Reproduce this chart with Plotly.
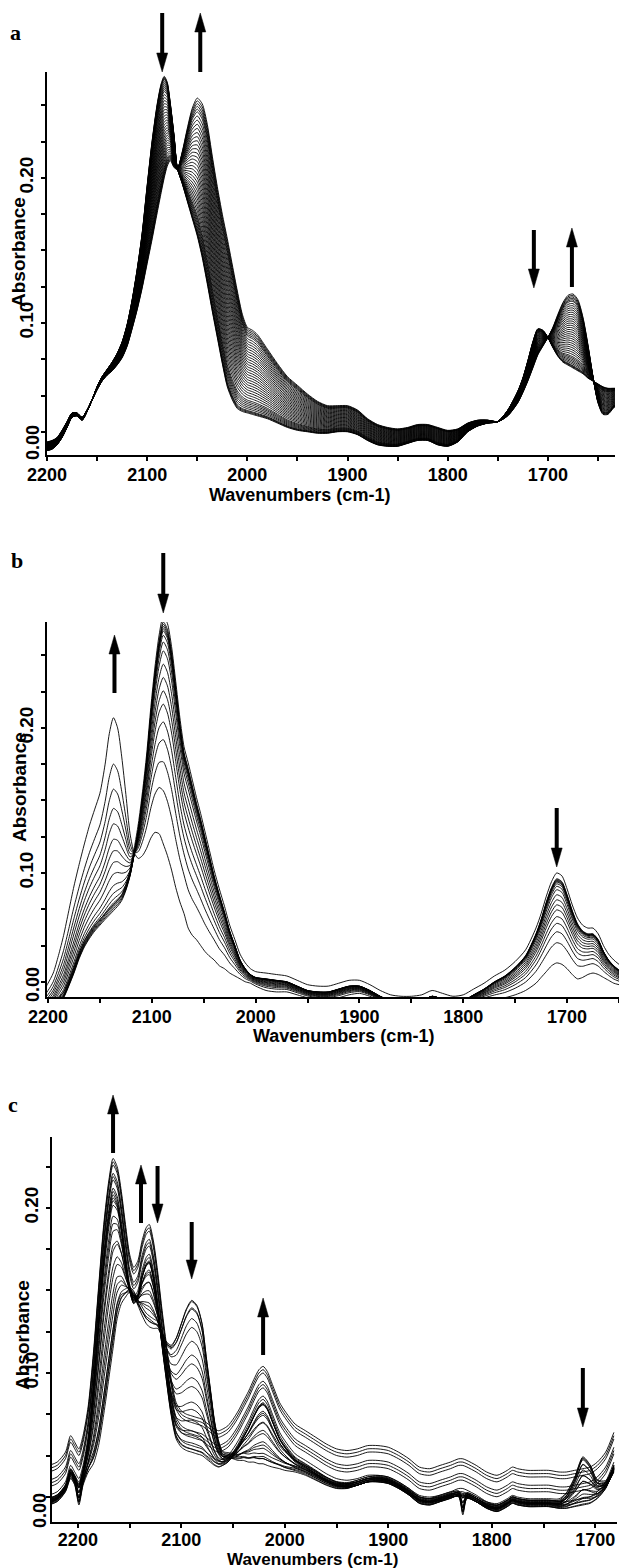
import plotly.graph_objects as go

W, H = 619, 1568

# ---------------- Panel a data ----------------
WN_A = [2200, 2195, 2190, 2185, 2180, 2175, 2170, 2165, 2160, 2155, 2150, 2145, 2140, 2135, 2130, 2125, 2120,
        2115, 2110, 2105, 2100, 2095, 2090, 2086, 2083, 2080, 2077, 2073, 2070, 2065, 2060, 2055, 2050, 2045,
        2040, 2035, 2030, 2025, 2020, 2015, 2010, 2005, 2000, 1995, 1990, 1980, 1970, 1960, 1950, 1940, 1930,
        1920, 1910, 1900, 1890, 1880, 1870, 1860, 1850, 1840, 1830, 1820, 1810, 1800, 1790, 1780, 1770, 1760,
        1750, 1740, 1730, 1725, 1720, 1715, 1710, 1705, 1700, 1695, 1690, 1685, 1680, 1675, 1670, 1665, 1660,
        1655, 1650, 1645, 1640, 1635, 1632]
START_A = [0.012, 0.013, 0.016, 0.021, 0.028, 0.035, 0.036, 0.033, 0.039, 0.047, 0.056, 0.063, 0.068, 0.073,
           0.079, 0.087, 0.099, 0.116, 0.137, 0.162, 0.195, 0.226, 0.251, 0.265, 0.270, 0.266, 0.252, 0.228,
           0.207, 0.196, 0.184, 0.172, 0.160, 0.145, 0.127, 0.108, 0.090, 0.072, 0.056, 0.047, 0.041, 0.039,
           0.038, 0.037, 0.036, 0.034, 0.031, 0.028, 0.026, 0.025, 0.024, 0.024, 0.025, 0.025, 0.023, 0.019,
           0.016, 0.015, 0.015, 0.017, 0.019, 0.019, 0.016, 0.015, 0.018, 0.025, 0.029, 0.031, 0.032, 0.040,
           0.053, 0.062, 0.074, 0.087, 0.096, 0.095, 0.090, 0.083, 0.077, 0.073, 0.071, 0.069, 0.067, 0.065,
           0.062, 0.060, 0.058, 0.056, 0.055, 0.055, 0.055]
END_A = [0.018, 0.019, 0.021, 0.026, 0.032, 0.038, 0.038, 0.035, 0.040, 0.047, 0.054, 0.060, 0.064, 0.067,
         0.071, 0.076, 0.084, 0.096, 0.109, 0.124, 0.141, 0.158, 0.176, 0.190, 0.200, 0.208, 0.212, 0.207,
         0.206, 0.218, 0.234, 0.248, 0.255, 0.251, 0.237, 0.215, 0.194, 0.175, 0.158, 0.140, 0.122, 0.106,
         0.097, 0.095, 0.092, 0.082, 0.072, 0.063, 0.057, 0.051, 0.046, 0.043, 0.043, 0.043, 0.040, 0.034,
         0.030, 0.028, 0.027, 0.028, 0.030, 0.030, 0.028, 0.026, 0.027, 0.031, 0.033, 0.033, 0.032, 0.036,
         0.045, 0.052, 0.060, 0.069, 0.078, 0.084, 0.090, 0.097, 0.106, 0.114, 0.119, 0.120, 0.116, 0.104,
         0.085, 0.063, 0.045, 0.037, 0.037, 0.041, 0.043]
FRAC_A = [0.0, 0.01, 0.02, 0.03, 0.05, 0.07, 0.09, 0.11, 0.13, 0.15, 0.18, 0.21, 0.24, 0.27, 0.30, 0.33, 0.36,
          0.39, 0.42, 0.45, 0.48, 0.51, 0.54, 0.57, 0.60, 0.63, 0.66, 0.69, 0.72, 0.75, 0.78, 0.81, 0.84, 0.87,
          0.90, 0.92, 0.94, 0.96, 0.98, 1.0]
OFF_A = [0.0] * len(FRAC_A)

# ---------------- Panel b data ----------------
WN_B = [2205, 2200, 2195, 2190, 2185, 2180, 2175, 2170, 2165, 2160, 2155, 2150, 2145, 2141, 2137, 2133, 2129,
        2125, 2121, 2117, 2113, 2109, 2105, 2101, 2097, 2093, 2089, 2085, 2081, 2077, 2073, 2069, 2065, 2061,
        2057, 2053, 2049, 2045, 2040, 2035, 2030, 2025, 2020, 2015, 2010, 2005, 2000, 1990, 1980, 1970, 1960,
        1950, 1940, 1930, 1920, 1910, 1900, 1890, 1880, 1870, 1860, 1850, 1840, 1830, 1820, 1810, 1800, 1790,
        1780, 1770, 1760, 1750, 1740, 1730, 1725, 1720, 1715, 1710, 1705, 1700, 1695, 1690, 1685, 1680, 1675,
        1670, 1665, 1660, 1655, 1650]
START_B = [0.001, 0.003, 0.006, 0.010, 0.014, 0.022, 0.031, 0.041, 0.049, 0.055, 0.060, 0.064, 0.068, 0.071,
           0.074, 0.077, 0.081, 0.088, 0.098, 0.113, 0.130, 0.152, 0.178, 0.210, 0.238, 0.260, 0.273, 0.268,
           0.252, 0.228, 0.203, 0.183, 0.172, 0.160, 0.148, 0.137, 0.125, 0.113, 0.098, 0.085, 0.073, 0.060,
           0.050, 0.040, 0.034, 0.030, 0.028, 0.027, 0.026, 0.025, 0.022, 0.019, 0.018, 0.018, 0.020, 0.022,
           0.022, 0.019, 0.015, 0.012, 0.011, 0.011, 0.012, 0.015, 0.013, 0.011, 0.012, 0.016, 0.020, 0.025,
           0.029, 0.035, 0.043, 0.058, 0.068, 0.080, 0.090, 0.096, 0.094, 0.085, 0.074, 0.065, 0.060, 0.058,
           0.058, 0.054, 0.046, 0.040, 0.036, 0.033]
END_B = [0.018, 0.024, 0.031, 0.043, 0.057, 0.074, 0.091, 0.106, 0.120, 0.133, 0.144, 0.155, 0.175, 0.196,
         0.207, 0.200, 0.180, 0.154, 0.127, 0.114, 0.110, 0.112, 0.117, 0.124, 0.128, 0.127, 0.120, 0.112,
         0.102, 0.090, 0.080, 0.072, 0.062, 0.057, 0.054, 0.050, 0.046, 0.043, 0.040, 0.036, 0.034, 0.031,
         0.029, 0.027, 0.025, 0.024, 0.022, 0.019, 0.018, 0.018, 0.016, 0.014, 0.013, 0.013, 0.014, 0.016,
         0.017, 0.015, 0.012, 0.010, 0.010, 0.011, 0.012, 0.014, 0.012, 0.010, 0.010, 0.011, 0.012, 0.013,
         0.014, 0.016, 0.019, 0.024, 0.028, 0.032, 0.036, 0.038, 0.037, 0.034, 0.030, 0.027, 0.028, 0.030,
         0.031, 0.030, 0.028, 0.026, 0.024, 0.023]
FRAC_B = [0.0, 0.0, 0.01, 0.02, 0.03, 0.04, 0.06, 0.09, 0.13, 0.19, 0.25, 0.31, 0.37, 0.45, 0.53, 0.63, 0.76, 1.0]
OFF_B = [0.0, 0.004] + [0.0] * (len(FRAC_B) - 2)

# ---------------- Panel c data ----------------
WN_C = [2228, 2220, 2212, 2207, 2203, 2199, 2195, 2190, 2185, 2180, 2175, 2170, 2166, 2162, 2158, 2154, 2150,
        2146, 2142, 2138, 2134, 2131, 2127, 2123, 2119, 2115, 2110, 2105, 2100, 2095, 2090, 2085, 2080, 2076,
        2072, 2068, 2064, 2060, 2055, 2050, 2045, 2040, 2035, 2030, 2025, 2021, 2017, 2012, 2005, 2000, 1990,
        1980, 1970, 1960, 1950, 1940, 1930, 1920, 1910, 1900, 1890, 1880, 1870, 1860, 1850, 1840, 1832, 1828,
        1824, 1815, 1805, 1795, 1785, 1780, 1775, 1765, 1755, 1745, 1735, 1728, 1720, 1712, 1705, 1698, 1690,
        1682]
START_C = [0.020, 0.022, 0.028, 0.036, 0.032, 0.020, 0.032, 0.040, 0.045, 0.056, 0.075, 0.097, 0.115, 0.133,
           0.142, 0.146, 0.149, 0.147, 0.141, 0.135, 0.130, 0.128, 0.127, 0.127, 0.123, 0.118, 0.116, 0.121,
           0.130, 0.139, 0.144, 0.141, 0.130, 0.110, 0.090, 0.070, 0.057, 0.050, 0.049, 0.048, 0.047, 0.047,
           0.046, 0.046, 0.045, 0.045, 0.044, 0.043, 0.042, 0.041, 0.040, 0.038, 0.035, 0.032, 0.030, 0.030,
           0.032, 0.034, 0.035, 0.034, 0.031, 0.027, 0.023, 0.022, 0.023, 0.025, 0.025, 0.014, 0.024, 0.022,
           0.019, 0.018, 0.021, 0.023, 0.022, 0.021, 0.021, 0.021, 0.021, 0.025, 0.035, 0.048, 0.043, 0.033,
           0.032, 0.040]
END_C = [0.022, 0.024, 0.030, 0.040, 0.036, 0.032, 0.040, 0.058, 0.090, 0.130, 0.168, 0.195, 0.208, 0.203,
         0.188, 0.168, 0.150, 0.142, 0.146, 0.158, 0.166, 0.168, 0.158, 0.140, 0.118, 0.098, 0.075, 0.060,
         0.055, 0.053, 0.052, 0.051, 0.050, 0.048, 0.046, 0.044, 0.043, 0.044, 0.046, 0.050, 0.055, 0.061,
         0.067, 0.074, 0.080, 0.082, 0.079, 0.071, 0.060, 0.055, 0.047, 0.043, 0.039, 0.035, 0.032, 0.031,
         0.032, 0.034, 0.034, 0.033, 0.030, 0.026, 0.021, 0.020, 0.022, 0.024, 0.026, 0.026, 0.025, 0.022,
         0.018, 0.016, 0.019, 0.021, 0.020, 0.019, 0.019, 0.019, 0.018, 0.018, 0.019, 0.020, 0.021, 0.024,
         0.030, 0.042]
FRAC_C = [0.0, 0.03, 0.06, 0.09, 0.12, 0.20, 0.28, 0.36, 0.44, 0.52, 0.60, 0.67, 0.74, 0.80, 0.86, 0.91, 0.95,
          0.98, 1.0, 1.0, 1.0, 1.0, 1.0, 1.0, 1.0, 1.0, 1.0]
OFF_C = [0.0, 0.002, 0.001, 0.003, 0.0, 0.002, 0.001, 0.0, 0.002, 0.001, 0.003, 0.0, 0.002, 0.001, 0.0,
         0.002, 0.001, 0.0, 0.0, 0.002, 0.004, 0.009, 0.011, 0.013, 0.018, 0.020, 0.022]

X_TICKS = [2200, 2150, 2100, 2050, 2000, 1950, 1900, 1850, 1800, 1750, 1700, 1650]
Y_TICKS = [0.025, 0.05, 0.075, 0.10, 0.125, 0.15, 0.175, 0.20, 0.225, 0.25]
Y_LABELS = {0.10: "0.10", 0.20: "0.20"}

# panel geometry (pixels) and axis ranges
PANELS = [
    dict(key="", x0=47, x1=615, y0=72, y1=455, xr=[2200, 1633], yr=[0.009, 0.273],
         wn=WN_A, s=START_A, e=END_A, f=FRAC_A, o=OFF_A, letter="a", letter_pos=(15, 32),
         abs_pos=(19, 252), wav_pos=(299, 495), wav_size=18, zero_pos=(33, 443), standoff=-2,
         arrows=[(2085, 13, 72, "down"), (2047, 13, 72, "up"), (1714, 230, 288, "down"), (1676, 228, 287, "up")]),
    dict(key="2", x0=47, x1=619, y0=622, y1=997, xr=[2201, 1650], yr=[0.0145, 0.273],
         wn=WN_B, s=START_B, e=END_B, f=FRAC_B, o=OFF_B, letter="b", letter_pos=(17, 560),
         abs_pos=(19, 787), wav_pos=(343, 1036), wav_size=18, zero_pos=(33, 985), standoff=-2,
         arrows=[(2136, 635, 693, "up"), (2089, 553, 613, "down"), (1710, 808, 867, "down")]),
    dict(key="3", x0=52, x1=617, y0=1137, y1=1522, xr=[2225, 1679], yr=[0.0097, 0.243],
         wn=WN_C, s=START_C, e=END_C, f=FRAC_C, o=OFF_C, letter="c", letter_pos=(13, 1104),
         abs_pos=(22, 1335), wav_pos=(312, 1559), wav_size=17, zero_pos=(40, 1511), standoff=-4,
         arrows=[(2166, 1095, 1153, "up"), (2139, 1165, 1223, "up"), (2123, 1166, 1223, "down"),
                 (2090, 1222, 1279, "down"), (2021, 1298, 1355, "up"), (1712, 1368, 1427, "down")]),
]

SANS = "Liberation Sans"
SERIF = "Liberation Serif"

fig = go.Figure()
layout = dict(width=W, height=H, margin=dict(l=0, r=0, t=0, b=0), paper_bgcolor="white",
              plot_bgcolor="white", showlegend=False)
annotations = []
shapes = []


def P(px, py):
    return px / W, 1 - py / H


for p in PANELS:
    k = p["key"]
    xname, yname = "x" + k, "y" + k
    for fr, off in zip(p["f"], p["o"]):
        yv = [(1 - fr) * a + fr * b + off for a, b in zip(p["s"], p["e"])]
        fig.add_trace(go.Scatter(x=p["wn"], y=yv, mode="lines", xaxis=xname, yaxis=yname,
                                 line=dict(color="black", width=0.9, shape="spline", smoothing=0.7),
                                 hoverinfo="skip", showlegend=False))
    xt = [t for t in X_TICKS if p["xr"][1] <= t <= p["xr"][0]]
    yt = [t for t in Y_TICKS if p["yr"][0] <= t <= p["yr"][1]]
    layout["xaxis" + k] = dict(
        domain=[p["x0"] / W, p["x1"] / W], range=p["xr"], anchor=yname, showgrid=False, zeroline=False,
        showline=True, linecolor="black", linewidth=2, ticks="outside", ticklen=4, tickwidth=1.5,
        tickcolor="black", tickvals=xt, ticktext=["<b>%d</b>" % t if t % 100 == 0 else "" for t in xt],
        tickfont=dict(family=SANS, size=18, color="black"), ticklabelstandoff=p["standoff"],
        automargin=False)
    layout["yaxis" + k] = dict(
        domain=[1 - p["y1"] / H, 1 - p["y0"] / H], range=p["yr"], anchor=xname, showgrid=False,
        zeroline=False, showline=True, linecolor="black", linewidth=2, ticks="outside", ticklen=4,
        tickwidth=1.5, tickcolor="black", tickvals=yt,
        ticktext=[("<b>%s</b>" % Y_LABELS[round(t, 3)]) if round(t, 3) in Y_LABELS else "" for t in yt],
        tickangle=-90, tickfont=dict(family=SANS, size=19, color="black"), automargin=False)

    lx, ly = P(*p["letter_pos"])
    annotations.append(dict(text="<b>%s</b>" % p["letter"], x=lx, y=ly, xref="paper", yref="paper",
                            showarrow=False, xanchor="center", yanchor="middle",
                            font=dict(family=SERIF, size=22, color="black")))
    ax_, ay_ = P(*p["abs_pos"])
    annotations.append(dict(text="<b>Absorbance</b>", x=ax_, y=ay_, xref="paper", yref="paper",
                            showarrow=False, textangle=-90, xanchor="center", yanchor="middle",
                            font=dict(family=SANS, size=19, color="black")))
    wx, wy = P(*p["wav_pos"])
    annotations.append(dict(text="<b>Wavenumbers (cm-1)</b>", x=wx, y=wy, xref="paper", yref="paper",
                            showarrow=False, xanchor="center", yanchor="middle",
                            font=dict(family=SANS, size=p["wav_size"], color="black")))
    zx, zy = P(*p["zero_pos"])
    annotations.append(dict(text="<b>0.00</b>", x=zx, y=zy, xref="paper", yref="paper",
                            showarrow=False, textangle=-90, xanchor="center", yanchor="middle",
                            font=dict(family=SANS, size=18, color="black")))

    # arrows (decorations) : shaft + triangular head
    scale = (p["x1"] - p["x0"]) / (p["xr"][0] - p["xr"][1])
    hw = 5.5 / scale
    head = 19
    for wn, ytop, ybot, d in p["arrows"]:
        if d == "down":
            tip, base, tail = ybot, ybot - head, ytop
        else:
            tip, base, tail = ytop, ytop + head, ybot
        shapes.append(dict(type="line", xref=xname, yref="paper", x0=wn, x1=wn,
                           y0=1 - tail / H, y1=1 - base / H, line=dict(color="black", width=4)))
        shapes.append(dict(type="path", xref=xname, yref="paper",
                           path="M %f,%f L %f,%f L %f,%f Z" % (wn - hw, 1 - base / H, wn + hw, 1 - base / H,
                                                               wn, 1 - tip / H),
                           fillcolor="black", line=dict(color="black", width=0.5)))

layout["annotations"] = annotations
layout["shapes"] = shapes
fig.update_layout(**layout)
fig.write_html("out.html")
